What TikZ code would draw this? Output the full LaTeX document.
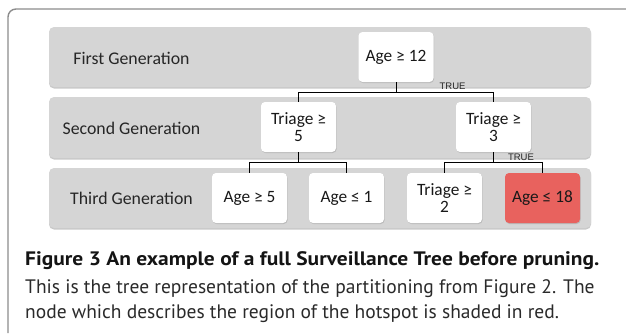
\documentclass[tikz,border=0pt]{standalone}
\usepackage{fontspec}
\usetikzlibrary{shadows}
\newfontfamily\boxfont{Carlito}
\newfontfamily\capfont{PT Sans}
\newfontfamily\lblfont{Liberation Sans}
\definecolor{bandgray}{HTML}{D5D5D5}
\definecolor{framegray}{HTML}{8C8C8C}
\definecolor{hotred}{HTML}{E8625E}
\definecolor{captext}{HTML}{2A2A2A}
\tikzset{
  band/.style={fill=bandgray, rounded corners=5pt, minimum width=542pt,
    inner sep=0pt, drop shadow={shadow xshift=0pt, shadow yshift=-1.5pt,
    opacity=0.35, fill=black!60}},
  gen/.style={font=\boxfont\fontsize{17.8}{17.8}\selectfont, text=black!85, inner sep=0pt},
  cond/.style={fill=white, rounded corners=4pt, minimum width=75pt,
    minimum height=50pt, inner sep=0pt, align=center,
    font=\boxfont\fontsize{17.3}{17}\selectfont, text=black!90,
    drop shadow={shadow xshift=0.6pt, shadow yshift=-1pt, opacity=0.25, fill=black!60}},
  hot/.style={cond, fill=hotred},
  link/.style={draw=black, line width=1pt},
  truelbl/.style={font=\lblfont\fontsize{9.5}{9.5}\selectfont, text=black!85, inner sep=0pt},
  frame/.style={draw=framegray, line width=1.4pt, rounded corners=8pt},
  capline/.style={anchor=base west, inner sep=0pt, text=captext}
}
\begin{document}
\begin{tikzpicture}[x=1pt, y=-1pt]
\useasboundingbox (0,0) rectangle (626,333);
\fill[white] (0,0) rectangle (626,333);

% outer frame (open to the right and bottom)
\draw[frame] (626,9) -- (8,9) -- (8,333);

% generation bands
\node[band, minimum height=60pt] (b1) at (320,57) {};
\node[band, minimum height=61pt] (b2) at (320,127.5) {};
\node[band, minimum height=60pt] (b3) at (320,198) {};

\node[gen] (g1) at (131.5,58) {First Generation};
\node[gen] (g2) at (131.5,128.5) {Second Generation};
\node[gen] (g3) at (131.5,198) {Third Generation};

% decision nodes
\node[cond] (n1) at (396,57) {Age ≥ 12};
\node[cond] (n2) at (298.5,127) {Triage ≥\\5};
\node[cond] (n3) at (493.5,127) {Triage ≥\\3};
\node[cond] (n4) at (249.5,198) {Age ≥ 5};
\node[cond] (n5) at (346.5,198) {Age ≤ 1};
\node[cond] (n6) at (444.5,198) {Triage ≥\\2};
\node[hot]  (n7) at (542.5,198) {Age ≤ 18};

% connectors
\draw[link] (n1.south) -- ++(0,10) coordinate (j1);
\draw[link] (j1) -| (n2.north);
\draw[link] (j1) -- (j1 -| n3.north)
  node[pos=0.58, above=2.5pt, truelbl] (t1) {TRUE} -- (n3.north);

\draw[link] (n2.south) -- ++(0,10) coordinate (j2);
\draw[link] (j2) -| (n4.north);
\draw[link] (j2) -| (n5.north);

\draw[link] (n3.south) -- ++(0,10) coordinate (j3);
\draw[link] (j3) -| (n6.north);
\draw[link] (j3) -- (j3 -| n7.north)
  node[pos=0.56, above=1.5pt, truelbl] (t2) {TRUE} -- (n7.north);

% caption
\node[capline, font=\capfont\bfseries\fontsize{19.5}{19.5}\selectfont, text=black!92] (c1) at (25,265)
  {\scalebox{1.1}[1]{Figure 3 An example of a full Surveillance Tree before pruning.}};
\node[capline, font=\capfont\fontsize{19.5}{19.5}\selectfont] (c2) at (25,293)
  {This is the tree representation of the partitioning from Figure 2. The};
\node[capline, font=\capfont\fontsize{19.5}{19.5}\selectfont] (c3) at (25,318)
  {node which describes the region of the hotspot is shaded in red.};
\end{tikzpicture}
\end{document}
